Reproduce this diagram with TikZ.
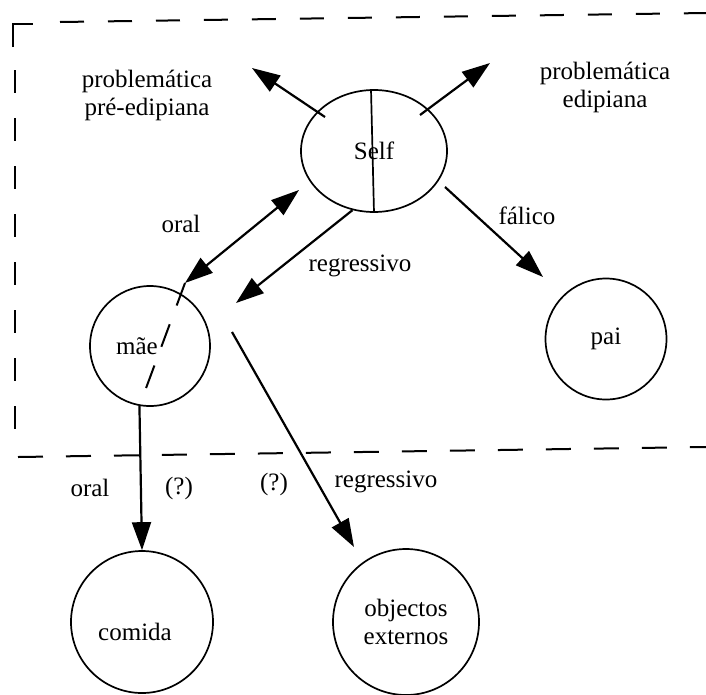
\documentclass[tikz,border=0pt]{standalone}
\usepackage{fontspec}
\setmainfont{Liberation Serif}
\usepackage{tikz}
\usetikzlibrary{shapes, arrows.meta, positioning, calc}

\begin{document}
\begin{tikzpicture}[
    x=1pt, y=-1pt,
    every node/.style={font=\fontsize{25}{28}\selectfont},
    obj/.style={circle, draw, line width=1.7pt, inner sep=0pt},
    arrow/.style={-{Triangle[length=28pt, width=19pt]}, line width=2.2pt},
    dbl/.style={{Triangle[length=28pt, width=19pt]}-{Triangle[length=28pt, width=19pt]}, line width=2.2pt},
    frame/.style={line width=2pt, dash pattern=on 24pt off 24pt}
]
\useasboundingbox (0,0) rectangle (706,694);

% Dashed frame
\draw[line width=2pt] (13,47) -- (13,24) -- (33,24);
\draw[frame] (60,22) -- (706,13);
\draw[frame, dash pattern=on 23pt off 25pt] (15,70) -- (15,432);
\draw[frame, dash pattern=on 25pt off 23pt] (18,457) -- (706,447);

% Self and the objects
\node[ellipse, draw, line width=1.7pt, minimum width=146pt, minimum height=122pt] (self) at (374,151) {Self};
\draw[line width=1.7pt] ([xshift=-3pt]self.north) -- (self.south);
\node[obj, minimum size=120pt, label={[xshift=-13pt]center:mãe}] (mae) at (150,346) {};
\node[obj, minimum size=121pt] (pai) at (606,339) {pai};
\node[obj, minimum size=142pt, label={[xshift=-7pt, yshift=-10pt]center:comida}] (comida) at (142,622) {};
\node[obj, minimum size=146pt, align=center] (ext) at (406,622) {objectos\\externos};

% Labels
\node[align=center] (pre) at (147,95) {problemática\\pré-edipiana};
\node[align=center] (edi) at (605,87) {problemática\\edipiana};
\node (oral1) at (181,224) {oral};
\node (reg1) at (360,266) {regressivo};
\node (fal) at (527,216) {fálico};
\node (oral2) at (90,488) {oral};
\node (q1) at (179,488) {(?)};
\node (q2) at (274,484) {(?)};
\node (reg2) at (386,482) {regressivo};

% Ends of the arrows
\coordinate (sl) at (325,117);
\coordinate (pl) at (252,68);
\coordinate (sr) at (420,115);
\coordinate (pr) at (490,63);
\coordinate (ma) at (185,283);
\coordinate (sa) at (299,190);
\coordinate (rg) at (236,303);
\coordinate (fa) at (445,187);
\coordinate (fb) at (543,277);
\coordinate (ea) at (232,332);
\coordinate (eb) at (354,547);
\coordinate (mb) at (142,399);

% Arrows
\draw[arrow] (sl) -- (pl);
\draw[arrow] (sr) -- (pr);
\draw[dbl] (ma) -- (sa);
\draw[arrow] (self.250) -- (rg);
\draw[arrow] (fa) -- (fb);
\draw[arrow] (mae.260) -- (comida.north);
\draw[arrow] (ea) -- (eb);
\draw[line width=2pt, dash pattern=on 24pt off 20pt] (ma) -- (mb);

\end{tikzpicture}
\end{document}
